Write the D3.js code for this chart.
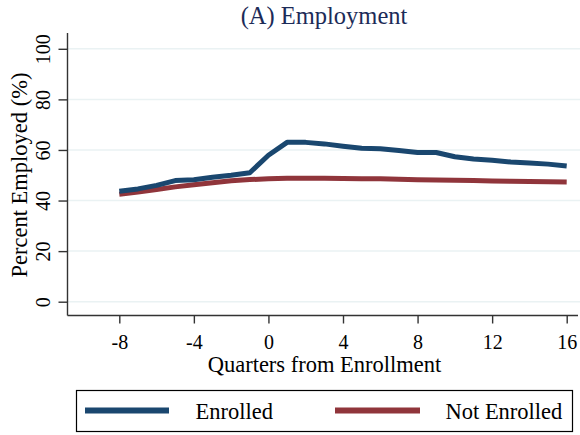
<!DOCTYPE html>
<html>
<head>
<meta charset="utf-8">
<script src="https://cdn.jsdelivr.net/npm/d3@7"></script>
<style>
  html, body { margin: 0; padding: 0; background: #fff; }
  svg { display: block; }
</style>
</head>
<body>
<svg id="chart" width="580" height="435"></svg>
<script>
// Quarters relative to enrollment
const quarters = [-8, -7, -6, -5, -4, -3, -2, -1, 0, 1, 2, 3, 4, 5, 6, 7, 8, 9, 10, 11, 12, 13, 14, 15, 16];
// Percent employed, enrolled group
const enrolled = [43.7, 44.6, 46.0, 47.9, 48.2, 49.2, 50.0, 51.0, 57.9, 63.0, 63.0, 62.4, 61.5, 60.7, 60.5, 59.8, 59.0, 59.0, 57.3, 56.4, 55.9, 55.2, 54.8, 54.4, 53.7];
// Percent employed, not-enrolled group
const notEnrolled = [42.5, 43.4, 44.4, 45.4, 46.2, 47.0, 47.8, 48.3, 48.6, 48.8, 48.8, 48.8, 48.7, 48.6, 48.6, 48.4, 48.2, 48.1, 48.0, 47.9, 47.7, 47.6, 47.5, 47.4, 47.3];
const xTicks = [-8, -4, 0, 4, 8, 12, 16];
const yTicks = [0, 20, 40, 60, 80, 100];
const seriesNames = ["Enrolled", "Not Enrolled"];
const seriesColors = ["#1a476f", "#90353b"];

const SERIF = "'Liberation Serif', 'Times New Roman', serif";
const svg = d3.select("#chart");

const plot = { left: 67.5, right: 580, top: 33, bottom: 315.5 };
const x = d3.scaleLinear().domain([-8, 16]).range([119.3, 566.7]);
const y = d3.scaleLinear().domain([0, 100]).range([301.7, 48.8]);

// horizontal gridlines
svg.append("g").selectAll("line").data(yTicks).join("line")
  .attr("x1", plot.left).attr("x2", plot.right)
  .attr("y1", d => y(d)).attr("y2", d => y(d))
  .attr("stroke", "#eaf2f3").attr("stroke-width", 1.5);

// y axis
const yAxis = svg.append("g")
  .attr("transform", `translate(${plot.left},0)`)
  .call(d3.axisLeft(y).tickValues(yTicks).tickSize(9).tickPadding(0).tickFormat(d3.format("d")));
yAxis.select(".domain").attr("d", `M0,${plot.top}V${plot.bottom}`).attr("stroke", "#333").attr("stroke-width", 1.4);
yAxis.selectAll(".tick line").attr("stroke", "#333").attr("stroke-width", 1.4);
yAxis.selectAll(".tick text")
  .attr("x", null).attr("dy", null)
  .attr("text-anchor", "middle")
  .attr("transform", "translate(-18,0) rotate(-90)")
  .attr("fill", "#000")
  .style("font-family", SERIF)
  .style("font-size", "20px");

// x axis
const xAxis = svg.append("g")
  .attr("transform", `translate(0,${plot.bottom})`)
  .call(d3.axisBottom(x).tickValues(xTicks).tickSize(8).tickPadding(0).tickFormat(d3.format("d")));
xAxis.select(".domain").attr("d", `M${plot.left},0H${plot.right - 2}`).attr("stroke", "#333").attr("stroke-width", 1.4);
xAxis.selectAll(".tick line").attr("stroke", "#333").attr("stroke-width", 1.4);
xAxis.selectAll(".tick text")
  .attr("y", 33).attr("dy", null)
  .attr("fill", "#000")
  .style("font-family", SERIF)
  .style("font-size", "20px")
  .text(d => d < 0 ? "-" + Math.abs(d) : d);

// series lines
const line = d3.line().x((d, i) => x(quarters[i])).y(d => y(d));
[notEnrolled, enrolled].forEach((vals, k) => {
  svg.append("path")
    .datum(vals)
    .attr("d", line)
    .attr("fill", "none")
    .attr("stroke", k === 0 ? seriesColors[1] : seriesColors[0])
    .attr("stroke-width", 5)
    .attr("stroke-linejoin", "round");
});

// titles
svg.append("text").attr("x", 324).attr("y", 24).attr("text-anchor", "middle")
  .attr("fill", "#1c2b58").style("font-family", SERIF).style("font-size", "24.5px").text("(A) Employment");
svg.append("text").attr("x", 324.5).attr("y", 372).attr("text-anchor", "middle")
  .attr("fill", "#000").style("font-family", SERIF).style("font-size", "22.5px").text("Quarters from Enrollment");
svg.append("text").attr("transform", "translate(27,175) rotate(-90)").attr("text-anchor", "middle")
  .attr("fill", "#000").style("font-family", SERIF).style("font-size", "22.5px").text("Percent Employed (%)");

// legend
const legend = svg.append("g");
legend.append("rect").attr("x", 76.5).attr("y", 390.5).attr("width", 496).attr("height", 41)
  .attr("fill", "#fff").attr("stroke", "#000").attr("stroke-width", 1.2);
const legendItems = [
  { name: seriesNames[0], color: seriesColors[0], x0: 85, x1: 169, tx: 195.5 },
  { name: seriesNames[1], color: seriesColors[1], x0: 335, x1: 420, tx: 445.5 }
];
legendItems.forEach(it => {
  legend.append("line").attr("x1", it.x0).attr("x2", it.x1).attr("y1", 410.5).attr("y2", 410.5)
    .attr("stroke", it.color).attr("stroke-width", 6);
  legend.append("text").attr("x", it.tx).attr("y", 418.5).attr("fill", "#000")
    .style("font-family", SERIF).style("font-size", "22.5px").text(it.name);
});
</script>
</body>
</html>
